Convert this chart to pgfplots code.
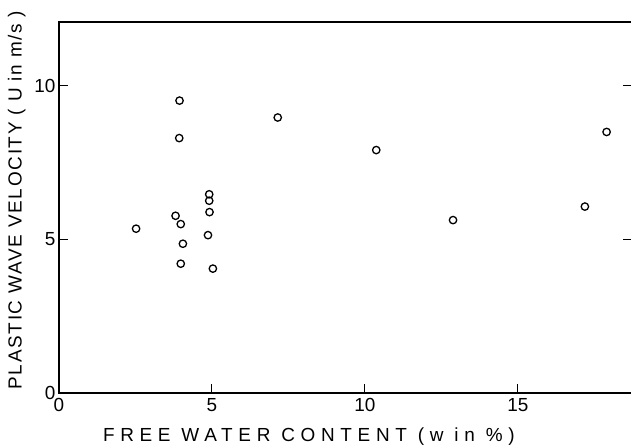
\documentclass[border=0pt]{standalone}
\usepackage{fontspec}
\setmainfont{Liberation Sans}
\newfontfamily\xlabfont{Liberation Sans}[LetterSpace=30]
\newfontfamily\ylabfont{Liberation Sans}[LetterSpace=9]
\usepackage{pgfplots}
\pgfplotsset{compat=1.18}
\begin{document}
\begin{tikzpicture}
\path[use as bounding box] (-59bp,-55bp) rectangle (572bp,393bp);
\begin{axis}[
  at={(0,0)}, anchor=south west,
  scale only axis,
  width=573bp, height=371bp,
  xmin=0, xmax=18.73, ymin=0, ymax=12.08,
  xtick={0,5,10,15}, ytick={0,5,10},
  xtick pos=bottom, ytick pos=both,
  tick align=inside,
  major tick length=9bp,
  axis line style={line width=1.1bp},
  tick style={line width=1bp, black},
  /pgf/number format/assume math mode=true,
  ticklabel style={font=\fontsize{19}{21}\selectfont},
  xticklabel style={yshift=-2bp},
  xlabel={\xlabfont FREE WATER CONTENT (w in \%)},
  ylabel={\ylabfont PLASTIC WAVE VELOCITY ( U in m/s )},
  label style={font=\fontsize{19}{21}\selectfont},
  xlabel style={at={(axis description cs:0.436,-0.1186)}, anchor=center},
  ylabel style={at={(axis description cs:-0.0736,0.52)}, anchor=center},
]
\addplot[only marks, mark=o, mark size=3.7bp, line width=1.3bp, black] coordinates {
(2.52,5.35) (3.94,9.52) (3.93,8.30) (3.81,5.77) (3.98,5.50) (4.05,4.86)
(3.98,4.21) (5.03,4.05) (4.87,5.14) (4.92,5.89) (4.91,6.26) (4.91,6.47)
(7.15,8.97) (10.37,7.91) (12.88,5.63) (17.19,6.07) (17.90,8.50)
};
\end{axis}
\end{tikzpicture}
\end{document}
